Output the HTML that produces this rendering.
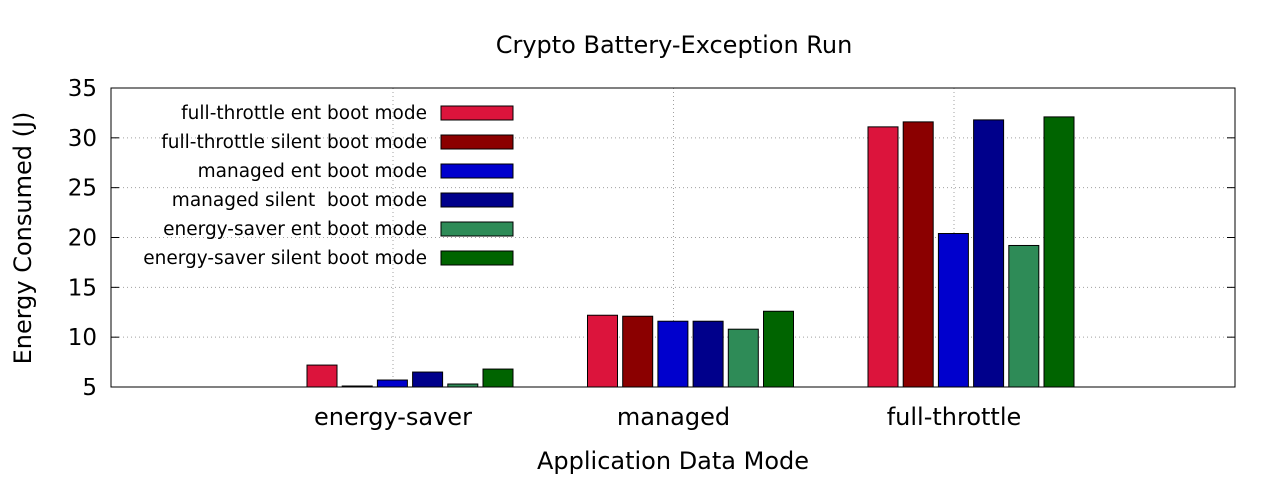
<!DOCTYPE html>
<html><head><meta charset="utf-8"><style>
body{margin:0;background:#fff;width:1280px;height:480px;overflow:hidden}
svg text{font-family:"DejaVu Sans","Liberation Sans",sans-serif;white-space:pre}
</style></head><body>
<svg id="chart" width="1280" height="480" xmlns="http://www.w3.org/2000/svg">
<rect width="1280" height="480" fill="#fff"/>
<text x="674" y="53" font-size="24" text-anchor="middle">Crypto Battery-Exception Run</text>
<text x="673" y="469" font-size="24" text-anchor="middle">Application Data Mode</text>
<text transform="translate(31,238) rotate(-90)" font-size="24" text-anchor="middle">Energy Consumed (J)</text>
<g id="grid"></g><g id="bars"></g><g id="axes"></g><g id="legend"></g>
</svg>
<script>
const categories = ["energy-saver","managed","full-throttle"];
const seriesNames = ["full-throttle ent boot mode","full-throttle silent boot mode","managed ent boot mode","managed silent  boot mode","energy-saver ent boot mode","energy-saver silent boot mode"];
const s1 = [7.2, 12.2, 31.1];
const s2 = [5.1, 12.1, 31.6];
const s3 = [5.7, 11.6, 20.4];
const s4 = [6.5, 11.6, 31.8];
const s5 = [5.3, 10.8, 19.2];
const s6 = [6.8, 12.6, 32.1];
const yTicks = [5,10,15,20,25,30,35];
const colors = ["#dc143c","#8b0000","#0000cd","#00008b","#2e8b57","#006400"];
const series=[s1,s2,s3,s4,s5,s6];
const NS="http://www.w3.org/2000/svg";
const L=111,R=1235,T=88,B=387,ymin=5,ymax=35;
const y=v=>B-(v-ymin)/(ymax-ymin)*(B-T);
const x=i=>393+i*280.5;
function mk(tag,attrs,parent){const e=document.createElementNS(NS,tag);for(const k in attrs)e.setAttribute(k,attrs[k]);document.getElementById(parent).appendChild(e);return e;}
yTicks.forEach(t=>{
 const g=mk("line",{x1:L,x2:R,y1:y(t),y2:y(t),stroke:"#a0a0a0","stroke-dasharray":"1,3"},"grid");
 
 
 const l=mk("text",{x:97,y:y(t)+8,"font-size":"23","text-anchor":"end"},"axes");l.textContent=t;
 
 
 mk("line",{x1:L,x2:L+8,y1:y(t),y2:y(t),stroke:"#000"},"axes");
 mk("line",{x1:R,x2:R-8,y1:y(t),y2:y(t),stroke:"#000"},"axes");
});
categories.forEach((c,i)=>{
 const g=mk("line",{x1:x(i),x2:x(i),y1:T,y2:B,stroke:"#a0a0a0","stroke-dasharray":"1,3"},"grid");
 
 
 const l=mk("text",{x:x(i),y:425,"font-size":"24","text-anchor":"middle"},"axes");l.textContent=c;
 
 
 series.forEach((s,j)=>{
  const bx=x(i)-86+j*35.2;
  const r=mk("rect",{x:bx,y:y(s[i]),width:30,height:B-y(s[i]),fill:colors[j],stroke:"#000","stroke-width":1},"bars");
  
  
 });
});
const f=mk("rect",{x:L,y:T,width:R-L,height:B-T,fill:"none",stroke:"#000"},"axes");


seriesNames.forEach((n,j)=>{
 const ly=113+j*29;
 const t=mk("text",{x:427,y:ly+6,"font-size":"18.5","text-anchor":"end"},"legend");t.textContent=n;
 
 
 const r=mk("rect",{x:441,y:ly-7,width:72,height:14,fill:colors[j],stroke:"#000"},"legend");
 
 
});
</script>
</body></html>
